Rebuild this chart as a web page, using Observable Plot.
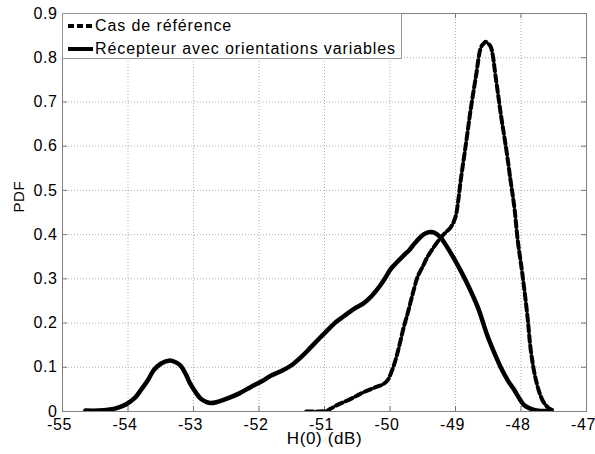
<!DOCTYPE html>
<html><head><meta charset="utf-8">
<script src="https://cdn.jsdelivr.net/npm/d3@7"></script>
<script src="https://cdn.jsdelivr.net/npm/@observablehq/plot@0.6"></script>
<style>
body{margin:0;background:#fff;}
#wrap{position:relative;width:595px;height:454px;font-family:"Liberation Sans",Arial,Helvetica,sans-serif;}
#legend{position:absolute;left:62px;top:13px;width:340px;height:46px;border:1px solid #999;background:#fff;box-sizing:border-box;}
.row{position:absolute;left:0;height:20px;line-height:20px;font-size:16px;letter-spacing:0.9px;color:#000;white-space:nowrap;}
.row svg{position:absolute;left:5px;top:6px;}
.row span{position:absolute;left:32px;top:0;}
</style>
</head><body>
<div id="wrap"></div>
<script>
const xTicks = [-55, -54, -53, -52, -51, -50, -49, -48, -47];
const yTicks = [0, 0.1, 0.2, 0.3, 0.4, 0.5, 0.6, 0.7, 0.8, 0.9];
const seriesNames = ["Cas de référence", "Récepteur avec orientations variables"];
const xLabel = "H(0) (dB)";
const yLabel = "PDF";

// Récepteur avec orientations variables (solid)
const recX = [-54.65,-54.45,-54.3,-54.15,-54.02,-53.9,-53.81,-53.7,-53.61,-53.5,-53.38,-53.28,-53.2,-53.12,-53.05,-52.95,-52.89,-52.8,-52.74,-52.65,-52.49,-52.3,-52.13,-51.95,-51.82,-51.65,-51.51,-51.35,-51.21,-51.08,-50.96,-50.82,-50.7,-50.55,-50.4,-50.3,-50.24,-50.15,-50.09,-49.99,-49.89,-49.79,-49.7,-49.63,-49.55,-49.48,-49.42,-49.38,-49.32,-49.22,-49.12,-49.02,-48.92,-48.82,-48.66,-48.51,-48.4,-48.31,-48.2,-48.1,-48.02,-47.95,-47.85,-47.74,-47.62,-47.55];
const recY = [0.002,0.002,0.004,0.009,0.017,0.03,0.047,0.07,0.093,0.108,0.115,0.112,0.104,0.085,0.063,0.04,0.029,0.021,0.019,0.021,0.029,0.041,0.055,0.069,0.081,0.092,0.104,0.124,0.145,0.165,0.183,0.203,0.216,0.232,0.245,0.258,0.268,0.285,0.298,0.322,0.338,0.353,0.366,0.379,0.392,0.401,0.405,0.406,0.404,0.392,0.37,0.345,0.318,0.289,0.236,0.17,0.13,0.1,0.07,0.048,0.028,0.014,0.006,0.002,0.001,0.001];

// Cas de référence (dashed)
const refX = [-51.28,-51.1,-50.96,-50.91,-50.8,-50.65,-50.5,-50.4,-50.25,-50.09,-50.03,-49.99,-49.94,-49.89,-49.84,-49.79,-49.73,-49.68,-49.63,-49.58,-49.5,-49.43,-49.33,-49.22,-49.15,-49.07,-49.0,-48.96,-48.92,-48.84,-48.77,-48.69,-48.61,-48.57,-48.54,-48.5,-48.46,-48.38,-48.31,-48.23,-48.16,-48.1,-48.05,-47.98,-47.9,-47.85,-47.77,-47.67,-47.58,-47.5];
const refY = [0,0,0.002,0.006,0.015,0.025,0.036,0.044,0.053,0.063,0.072,0.085,0.105,0.13,0.16,0.191,0.222,0.251,0.279,0.304,0.328,0.349,0.372,0.394,0.405,0.417,0.44,0.475,0.523,0.606,0.681,0.756,0.824,0.832,0.836,0.832,0.824,0.749,0.674,0.598,0.523,0.46,0.387,0.312,0.213,0.138,0.07,0.025,0.008,0.002];

const rec = recX.map((x, i) => ({x, y: recY[i]}));
const ref = refX.map((x, i) => ({x, y: refY[i]}));

const W = 595, H = 454, mL = 62, mR = 9, mT = 13, mB = 43;
const fw = W - mL - mR, fh = H - mT - mB, tl = 5;
const gridStyle = {stroke: "#9a9a9a", strokeWidth: 0.8, strokeDasharray: "1,2"};
const fmtX = d => String(d);
const fmtY = d => d === 0 ? "0" : d.toFixed(1);

const hasAxisMarks = typeof Plot.axisX === "function";
const axisMarks = hasAxisMarks ? [
  Plot.axisX({ticks: xTicks, tickFormat: fmtX, tickSize: 0, tickPadding: 7, fontSize: 16, dx: -3, label: null}),
  Plot.axisY({ticks: yTicks, tickFormat: fmtY, tickSize: 0, tickPadding: 5, fontSize: 16, label: null})
] : [];

const chart = Plot.plot({
  width: W, height: H,
  marginLeft: mL, marginRight: mR, marginTop: mT, marginBottom: mB,
  style: {fontFamily: '"Liberation Sans", Arial, Helvetica, sans-serif', fontSize: "16px", color: "#000", background: "#fff", letterSpacing: "0.6px", overflow: "visible"},
  x: {domain: [-55, -47], ticks: xTicks, tickFormat: fmtX, tickSize: 0, tickPadding: 7, label: null},
  y: {domain: [0, 0.9], ticks: yTicks, tickFormat: fmtY, tickSize: 0, tickPadding: 5, label: null},
  marks: [
    Plot.ruleX(xTicks, {x: d => d, ...gridStyle}),
    Plot.ruleY(yTicks, {y: d => d, ...gridStyle}),
    Plot.ruleX(xTicks, {x: d => d, insetTop: fh - tl, stroke: "#777"}),
    Plot.ruleX(xTicks, {x: d => d, insetBottom: fh - tl, stroke: "#777"}),
    Plot.ruleY(yTicks, {y: d => d, insetRight: fw - tl, stroke: "#777"}),
    Plot.ruleY(yTicks, {y: d => d, insetLeft: fw - tl, stroke: "#777"}),
    Plot.frame({stroke: "#808080", strokeWidth: 1}),
    ...axisMarks,
    Plot.line(rec, {x: "x", y: "y", stroke: "#000", strokeWidth: 4.5, curve: "catmull-rom", clip: true}),
    Plot.line(ref, {x: "x", y: "y", stroke: "#000", strokeWidth: 4, strokeDasharray: "7,3.5", curve: "catmull-rom", clip: true}),
    Plot.text([xLabel], {text: d => d, frameAnchor: "bottom", dy: 32, fontSize: 17}),
    Plot.text([yLabel], {text: d => d, frameAnchor: "left", rotate: -90, dx: -43, fontSize: 15})
  ]
});

const wrap = document.getElementById("wrap");
wrap.appendChild(chart);

const legend = document.createElement("div");
legend.id = "legend";
const rows = [
  {name: seriesNames[0], dash: "6,3", top: 2},
  {name: seriesNames[1], dash: null, top: 25}
];
for (const r of rows) {
  const row = document.createElement("div");
  row.className = "row";
  row.style.top = r.top + "px";
  row.innerHTML = `<svg width="26" height="8"><line x1="0" y1="4" x2="25" y2="4" stroke="#000" stroke-width="4" ${r.dash ? `stroke-dasharray="${r.dash}"` : ""}/></svg><span>${r.name}</span>`;
  legend.appendChild(row);
}
wrap.appendChild(legend);
</script>
</body></html>
